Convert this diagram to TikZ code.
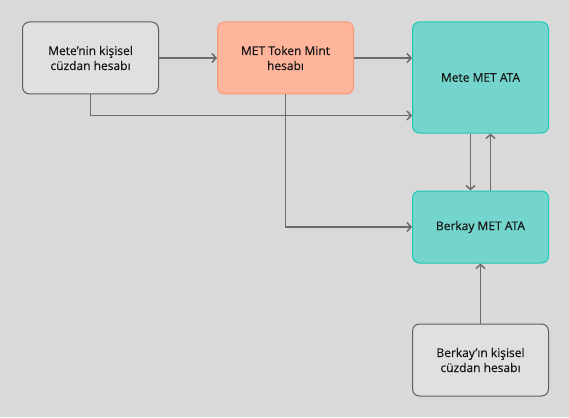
\documentclass[tikz,border=0pt]{standalone}
\usepackage{fontspec}
\setmainfont{Open Sans}
\newfontfamily\boxfont{Open Sans}[FakeBold=0.35]
\usepackage{xcolor}
\usetikzlibrary{arrows.meta,positioning}
\definecolor{CanvasGray}{HTML}{D9D9D9}
\definecolor{WalletFill}{HTML}{E0E0E0}
\definecolor{WalletLine}{HTML}{5E5E5E}
\definecolor{MintFill}{HTML}{FFB59C}
\definecolor{MintLine}{HTML}{FF9675}
\definecolor{AtaFill}{HTML}{74D5CD}
\definecolor{AtaLine}{HTML}{1BC8B8}
\definecolor{ArrowGray}{HTML}{6B6B6B}
\definecolor{InkDark}{HTML}{161616}

\begin{document}
\begin{tikzpicture}[
  x=1pt,y=-1pt,
  node distance=58pt and 58pt,
  box/.style={rounded corners=7pt,line width=1pt,align=center,
              minimum width=136pt,minimum height=72pt,inner sep=2pt,
              text=InkDark,font=\boxfont\fontsize{12}{15}\selectfont},
  wallet/.style={box,fill=WalletFill,draw=WalletLine},
  mintbox/.style={box,fill=MintFill,draw=MintLine},
  ata/.style={box,fill=AtaFill,draw=AtaLine},
  arr/.style={-{Straight Barb[length=4pt,width=9pt]},line width=1.5pt,draw=ArrowGray}
]
\fill[CanvasGray] (0,0) rectangle (569,417);
\useasboundingbox (0,0) rectangle (569,417);
\node[wallet] (metewallet) at (90.5,58) {Mete’nin kişisel\\cüzdan hesabı};
\node[mintbox,right=of metewallet] (mint) {MET Token Mint\\hesabı};
\node[ata,minimum height=111pt,right=58pt of mint.north east,anchor=north west]
 (meteata) {Mete MET ATA};
\node[ata,below=57pt of meteata] (berkayata) {Berkay MET ATA};
\node[wallet,below=60pt of berkayata] (berkaywallet) {Berkay’ın kişisel\\cüzdan hesabı};
\draw[arr] (metewallet) -- (mint);
\draw[arr] (mint.east) -- (mint.east -| meteata.west);
\draw[arr] (metewallet.south) |- ([yshift=18pt]meteata.south west);
\draw[arr] (mint.south) |- (berkayata.west);
\draw[arr] ([xshift=-10pt]meteata.south) -- ([xshift=-10pt]berkayata.north);
\draw[arr] ([xshift=10pt]berkayata.north) -- ([xshift=10pt]meteata.south);
\draw[arr] (berkaywallet) -- (berkayata);
\end{tikzpicture}
\end{document}
